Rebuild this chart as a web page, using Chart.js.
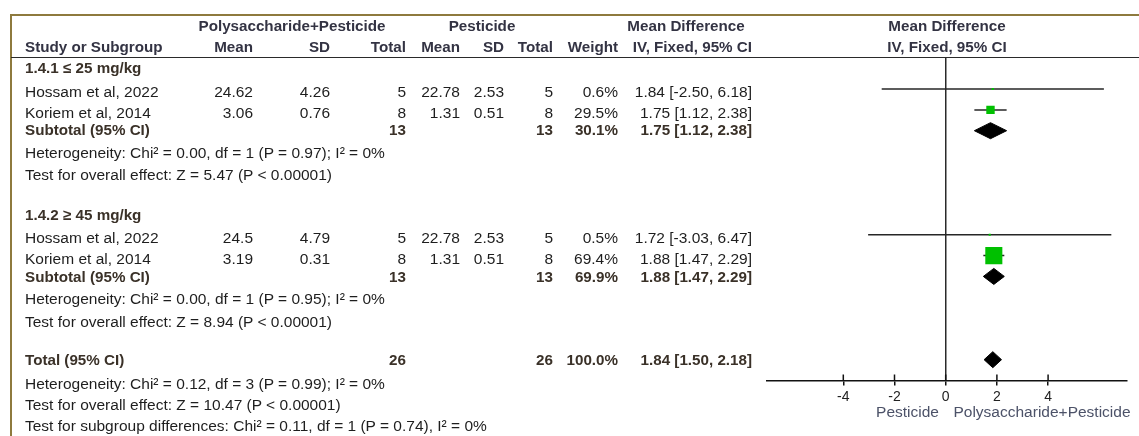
<!DOCTYPE html>
<html>
<head>
<meta charset="utf-8">
<title>Forest plot – Polysaccharide+Pesticide vs Pesticide</title>
<script src="https://cdn.jsdelivr.net/npm/chart.js@4.4.1/dist/chart.umd.min.js"></script>
<style>
  html, body { margin: 0; padding: 0; background: #fff; }
  #wrap { position: relative; width: 1139px; height: 436px; overflow: hidden; background: #fff; }
  #plot { position: absolute; left: 0; top: 0; }
  .t { position: absolute; white-space: nowrap; line-height: 1; font-family: "Liberation Sans", Arial, sans-serif;
       font-size: 15.5px; color: #1e1e1e; transform: translateY(-50%); }
  .b { font-weight: bold; font-size: 15.2px; }
  .hd { color: #333343; }
  .br { color: #3a3128; }
  .fav { color: #4c5268; }
  .rule { position: absolute; }
</style>
</head>
<body>
<div id="wrap">
  <canvas id="plot" width="1139" height="436"></canvas>
</div>
<script>
// ---- study data ----
const groupLabels = ['1.4.1 \u2264 25 mg/kg', '1.4.2 \u2265 45 mg/kg'];
const studies     = ['Hossam et al, 2022', 'Koriem et al, 2014', 'Hossam et al, 2022', 'Koriem et al, 2014'];
const expMean     = [24.62, 3.06, 24.5, 3.19];
const expSD       = [4.26, 0.76, 4.79, 0.31];
const expN        = [5, 8, 5, 8];
const ctrlMean    = [22.78, 1.31, 22.78, 1.31];
const ctrlSD      = [2.53, 0.51, 2.53, 0.51];
const ctrlN       = [5, 8, 5, 8];
const weights     = [0.6, 29.5, 0.5, 69.4];
const meanDiff    = [1.84, 1.75, 1.72, 1.88];
const ciLow       = [-2.50, 1.12, -3.03, 1.47];
const ciHigh      = [6.18, 2.38, 6.47, 2.29];

// ---- subgroup and overall pooled estimates ----
const subExpN     = [13, 13];
const subCtrlN    = [13, 13];
const subWeight   = [30.1, 69.9];
const subMD       = [1.75, 1.88];
const subLow      = [1.12, 1.47];
const subHigh     = [2.38, 2.29];
const totalExpN   = 26;
const totalCtrlN  = 26;
const totalWeight = 100.0;
const totalMD     = 1.84;
const totalLow    = 1.50;
const totalHigh   = 2.18;

const subHeterogeneity = ['Heterogeneity: Chi\u00b2 = 0.00, df = 1 (P = 0.97); I\u00b2 = 0%',
                          'Heterogeneity: Chi\u00b2 = 0.00, df = 1 (P = 0.95); I\u00b2 = 0%'];
const subEffect        = ['Test for overall effect: Z = 5.47 (P < 0.00001)',
                          'Test for overall effect: Z = 8.94 (P < 0.00001)'];
const totalHeterogeneity = 'Heterogeneity: Chi\u00b2 = 0.12, df = 3 (P = 0.99); I\u00b2 = 0%';
const totalEffect        = 'Test for overall effect: Z = 10.47 (P < 0.00001)';
const subgroupDiff       = 'Test for subgroup differences: Chi\u00b2 = 0.11, df = 1 (P = 0.74), I\u00b2 = 0%';

// ---- axis ----
const xTicks = [-4, -2, 0, 2, 4];
const favourLeft  = 'Pesticide';
const favourRight = 'Polysaccharide+Pesticide';

// row index of each mark on the plot's vertical scale
const studyRow = [1, 2, 8, 9];
const subRow   = [3, 10];
const totalRow = 14;

// ---------------- table text ----------------
const wrap = document.getElementById('wrap');
const W = 1139;
function put(text, x, y, align, cls) {
  const d = document.createElement('div');
  d.className = 't ' + (cls || '');
  d.textContent = text;
  d.style.top = y + 'px';
  if (align === 'right') { d.style.right = (W - x) + 'px'; }
  else if (align === 'center') { d.style.left = x + 'px'; d.style.transform = 'translate(-50%,-50%)'; }
  else { d.style.left = x + 'px'; }
  wrap.appendChild(d);
}
function rule(x, y, w, h, color) {
  const d = document.createElement('div');
  d.className = 'rule';
  Object.assign(d.style, { left: x + 'px', top: y + 'px', width: w + 'px', height: h + 'px', background: color });
  wrap.appendChild(d);
}

// frame and header rule
rule(9.5, 13.5, W - 9.5, 2, '#8e7a3e');
rule(9.5, 13.5, 2, 436, '#8e7a3e');
rule(11, 56.5, W - 11, 1.6, '#2a2a2a');

// column right edges
const col = { label: 25, eM: 253, eSD: 330, eN: 406, cM: 460, cSD: 504, cN: 553, wt: 618, ci: 752 };

// header
put('Polysaccharide+Pesticide', 292, 26, 'center', 'b hd');
put('Pesticide', 482, 26, 'center', 'b hd');
put('Mean Difference', 686, 26, 'center', 'b hd');
put('Mean Difference', 947, 26, 'center', 'b hd');
put('Study or Subgroup', col.label, 47, 'left', 'b hd');
put('Mean', col.eM, 47, 'right', 'b hd');
put('SD', col.eSD, 47, 'right', 'b hd');
put('Total', col.eN, 47, 'right', 'b hd');
put('Mean', col.cM, 47, 'right', 'b hd');
put('SD', col.cSD, 47, 'right', 'b hd');
put('Total', col.cN, 47, 'right', 'b hd');
put('Weight', col.wt, 47, 'right', 'b hd');
put('IV, Fixed, 95% CI', col.ci, 47, 'right', 'b hd');
put('IV, Fixed, 95% CI', 947, 47, 'center', 'b hd');

const fmtCI = (m, lo, hi) => m.toFixed(2) + ' [' + lo.toFixed(2) + ', ' + hi.toFixed(2) + ']';

// vertical text positions of the table lines
const groupY  = [68, 215];
const studyY  = [91.5, 112.5, 238, 258.5];
const subY    = [130, 276.5];
const hetY    = [153, 299];
const effY    = [175, 321.5];

groupLabels.forEach((g, gi) => {
  put(g, col.label, groupY[gi], 'left', 'b br');
  [0, 1].forEach(k => {
    const i = gi * 2 + k, y = studyY[i];
    put(studies[i], col.label, y, 'left');
    put(String(expMean[i]), col.eM, y, 'right');
    put(expSD[i].toFixed(2), col.eSD, y, 'right');
    put(String(expN[i]), col.eN, y, 'right');
    put(String(ctrlMean[i]), col.cM, y, 'right');
    put(ctrlSD[i].toFixed(2), col.cSD, y, 'right');
    put(String(ctrlN[i]), col.cN, y, 'right');
    put(weights[i].toFixed(1) + '%', col.wt, y, 'right');
    put(fmtCI(meanDiff[i], ciLow[i], ciHigh[i]), col.ci, y, 'right');
  });
  put('Subtotal (95% CI)', col.label, subY[gi], 'left', 'b br');
  put(String(subExpN[gi]), col.eN, subY[gi], 'right', 'b br');
  put(String(subCtrlN[gi]), col.cN, subY[gi], 'right', 'b br');
  put(subWeight[gi].toFixed(1) + '%', col.wt, subY[gi], 'right', 'b br');
  put(fmtCI(subMD[gi], subLow[gi], subHigh[gi]), col.ci, subY[gi], 'right', 'b br');
  put(subHeterogeneity[gi], col.label, hetY[gi], 'left');
  put(subEffect[gi], col.label, effY[gi], 'left');
});

put('Total (95% CI)', col.label, 360, 'left', 'b br');
put(String(totalExpN), col.eN, 360, 'right', 'b br');
put(String(totalCtrlN), col.cN, 360, 'right', 'b br');
put(totalWeight.toFixed(1) + '%', col.wt, 360, 'right', 'b br');
put(fmtCI(totalMD, totalLow, totalHigh), col.ci, 360, 'right', 'b br');
put(totalHeterogeneity, col.label, 384, 'left');
put(totalEffect, col.label, 405, 'left');
put(subgroupDiff, col.label, 426, 'left');

put(favourLeft, 907.5, 412, 'center', 'fav');
put(favourRight, 1042, 412, 'center', 'fav');

// ---------------- forest plot ----------------
const DIAMOND_HALF = 0.385;              // half height of a pooled diamond, in rows
const squareRadius = w => (2 + 0.217 * w) / Math.SQRT2;   // square side grows with study weight

const squares = {
  label: 'studies',
  data: studies.map((s, i) => ({ x: meanDiff[i], y: studyRow[i] })),
  showLine: false,
  pointStyle: 'rect',
  pointRadius: weights.map(squareRadius),
  pointBackgroundColor: '#00c000',
  pointBorderWidth: 0,
  order: 0
};

const diamond = (m, lo, hi, r) => ({
  data: [{ x: lo, y: r }, { x: m, y: r - DIAMOND_HALF }, { x: hi, y: r }, { x: m, y: r + DIAMOND_HALF }, { x: lo, y: r }],
  borderColor: '#000', borderWidth: 1, backgroundColor: '#000',
  fill: 'shape', pointRadius: 0, tension: 0, order: 1
});

const whiskers = studies.map((s, i) => ({
  data: [{ x: ciLow[i], y: studyRow[i] }, { x: ciHigh[i], y: studyRow[i] }],
  borderColor: '#262626', borderWidth: 1.5, pointRadius: 0, fill: false, order: 2
}));

const datasets = [
  squares,
  ...subMD.map((m, g) => diamond(m, subLow[g], subHigh[g], subRow[g])),
  diamond(totalMD, totalLow, totalHigh, totalRow),
  ...whiskers
];

// short tick stubs above the axis line
const tickStubs = {
  id: 'tickStubs',
  afterDraw(chart) {
    const s = chart.scales.x, ctx = chart.ctx;
    ctx.save();
    ctx.strokeStyle = '#111';
    ctx.lineWidth = 1.5;
    xTicks.forEach(v => {
      const px = s.getPixelForValue(v);
      ctx.beginPath();
      ctx.moveTo(px, s.top);
      ctx.lineTo(px, s.top - 6);
      ctx.stroke();
    });
    ctx.restore();
  }
};

new Chart(document.getElementById('plot'), {
  type: 'line',
  data: { datasets },
  plugins: [tickStubs],
  options: {
    responsive: false,
    animation: false,
    events: [],
    layout: { padding: { left: 766.5, right: 10, top: 57, bottom: 0 } },
    plugins: { legend: { display: false }, tooltip: { enabled: false } },
    scales: {
      x: {
        type: 'linear',
        min: -7, max: 7.08,
        afterBuildTicks: s => { s.ticks = xTicks.map(v => ({ value: v })); },
        afterFit: s => { s.height = 55.5; },
        grid: {
          drawOnChartArea: true,
          color: c => (c.tick && c.tick.value === 0) ? '#2a2a2a' : 'rgba(0,0,0,0)',
          lineWidth: 1.5,
          tickColor: '#111',
          tickWidth: 1.5,
          tickLength: 5
        },
        border: { display: true, color: '#111', width: 1.5 },
        ticks: {
          color: '#222', padding: 3, maxRotation: 0, autoSkip: false,
          font: { family: '"Liberation Sans", Arial, sans-serif', size: 14 }
        }
      },
      y: { type: 'linear', reverse: true, min: -0.54, max: 15, display: false }
    }
  }
});
</script>
</body>
</html>
